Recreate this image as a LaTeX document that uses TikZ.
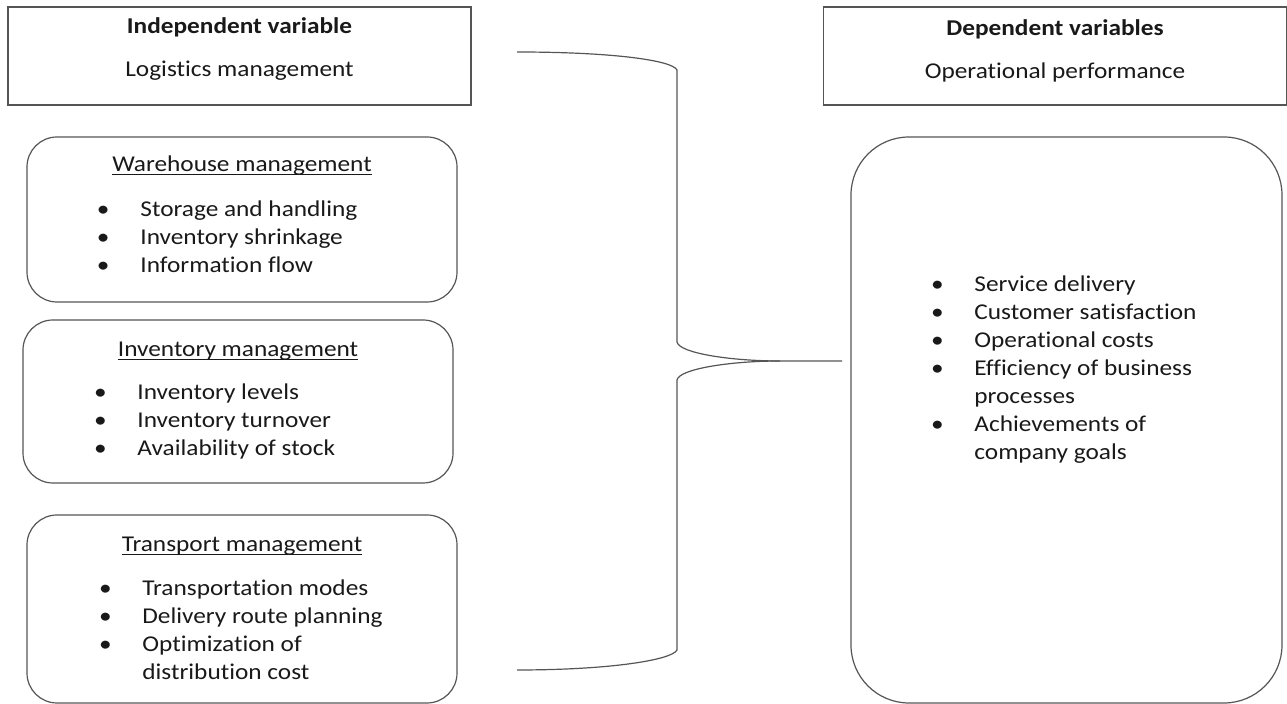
\documentclass[tikz,border=0pt]{standalone}
\usepackage{fontspec}
\setmainfont{Carlito}[FakeStretch=1.12, Ligatures={NoCommon, NoRare}, Contextuals=NoAlternate]
\definecolor{frame_grey}{RGB}{85, 85, 85}
\definecolor{text_dark}{RGB}{25, 25, 25}
\usetikzlibrary{positioning}
\newlength{\itmgap}
\setlength{\itmgap}{21.7pt}
\newcommand{\undl}[1]{\setbox0\hbox{#1}\rlap{\rule[-1.6pt]{\wd0}{0.55pt}}\box0}
\newcommand{\itm}{\makebox[\itmgap][l]{\textbullet}}
\newcommand{\cont}{\hspace*{\itmgap}}

\begin{document}
\begin{tikzpicture}[x=0.5pt, y=-0.5pt,
    box/.style={draw=frame_grey, line width=0.6pt, inner sep=0pt, outer sep=0pt},
    headbox/.style={box, minimum width=231.5pt, minimum height=49pt},
    groupbox/.style={box, rounded corners=15pt, minimum width=215pt},
    txt/.style={anchor=base, inner sep=0pt, text=text_dark,
                font=\fontsize{11.3}{14}\selectfont},
    listtxt/.style={txt, anchor=base west},
    brace/.style={draw=frame_grey, line width=0.6pt}]
    \useasboundingbox (0,0) rectangle (1287,704);

    % variable boxes
    \node[headbox] (iv) at (239.5,56) {};
    \node[headbox] (dv) at (1055,56) {};
    \node[txt, font=\fontsize{11.3}{14}\selectfont\bfseries] (ivtitle) at (239.5,34) {Independent variable};
    \node[txt] (ivname) at (239.5,77) {Logistics management};
    \node[txt, font=\fontsize{11.3}{14}\selectfont\bfseries] (dvtitle) at (1055,36) {Dependent variables};
    \node[txt] (dvname) at (1055,79) {Operational performance};

    % dimensions of logistics management
    \node[groupbox, minimum height=82.5pt] (wh) at (242,219.5) {};
    \node[txt] (whtitle) at (242,172) {\undl{Warehouse management}};
    \node[listtxt] (whlist) at (96.6,217) {\begin{tabular}[t]{@{}l@{}}
        \itm Storage and handling\\
        \itm Inventory shrinkage\\
        \itm Information flow
      \end{tabular}};

    \node[groupbox, minimum height=81.5pt] (inv) at (238,401.5) {};
    \node[txt] (invtitle) at (238,357) {\undl{Inventory management}};
    \node[listtxt] (invlist) at (93.6,400) {\begin{tabular}[t]{@{}l@{}}
        \itm Inventory levels\\
        \itm Inventory turnover\\
        \itm Availability of stock
      \end{tabular}};

    \node[groupbox, minimum height=94pt] (tr) at (242,609) {};
    \node[txt] (trtitle) at (242,552) {\undl{Transport management}};
    \node[listtxt] (trlist) at (98.6,596) {\begin{tabular}[t]{@{}l@{}}
        \itm Transportation modes\\
        \itm Delivery route planning\\
        \itm Optimization of\\
        \cont distribution cost
      \end{tabular}};

    % operational performance
    \node[box, rounded corners=29pt, minimum width=215.5pt, minimum height=283pt] (perf) at (1066.5,420) {};
    \node[listtxt] (perflist) at (930.6,292) {\begin{tabular}[t]{@{}l@{}}
        \itm Service delivery\\
        \itm Customer satisfaction\\
        \itm Operational costs\\
        \itm Efficiency of business\\
        \cont processes\\
        \itm Achievements of\\
        \cont company goals
      \end{tabular}};

    % brace
    \coordinate (bt) at (517,52);
    \coordinate (bb) at (517,670);
    \coordinate (tip) at (780,361);
    \coordinate (pin) at (842,361);
    \draw[brace] (bt) .. controls (610,52) and (672,60) .. (677,70) -- (677,342)
      .. controls (679,353) and (730,361) .. (tip) -- (pin);
    \draw[brace] (tip) .. controls (730,361) and (679,369) .. (677,380) -- (677,650)
      .. controls (672,660) and (610,670) .. (bb);
\end{tikzpicture}
\end{document}
